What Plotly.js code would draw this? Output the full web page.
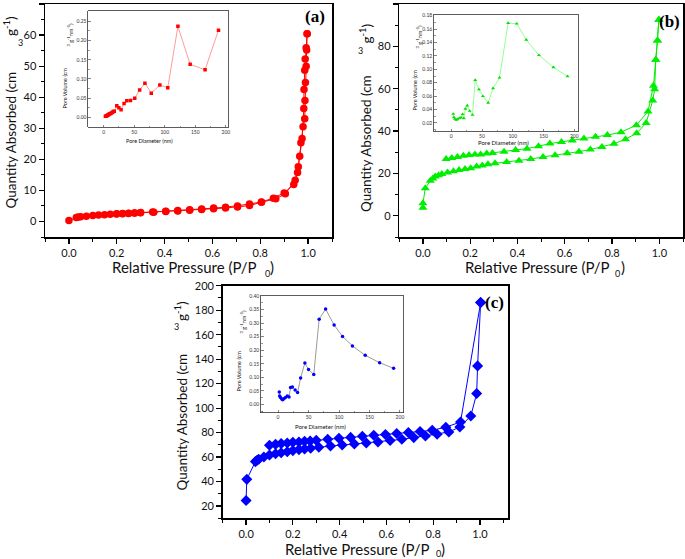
<!DOCTYPE html>
<html>
<head>
<meta charset="utf-8">
<script src="https://cdn.plot.ly/plotly-3.0.1.min.js"></script>
<style>html,body{margin:0;padding:0;background:#fff}#chart{width:685px;height:559px}</style>
</head>
<body>
<div id="chart"></div>
<script>
// ---------- Data ----------
// Panel (a) isotherm
const aAdsP = [0.000,0.031,0.039,0.049,0.073,0.100,0.124,0.149,0.173,0.199,0.224,0.249,0.274,0.299,0.355,0.405,0.455,0.505,0.555,0.605,0.655,0.705,0.755,0.805,0.865,0.905,0.946,0.959,0.970,0.979,0.986,0.987,0.989,0.992,0.994,0.996];
const aAdsQ = [0.3,1.3,1.4,1.5,1.7,1.95,2.05,2.15,2.3,2.4,2.5,2.6,2.7,2.8,2.95,3.2,3.4,3.65,3.85,4.1,4.35,4.65,5.1,6.2,7.3,8.9,13.3,17.6,25.3,30.5,33.1,38.9,44.7,50.0,55.2,60.4];
const aDesP = [0.996,0.992,0.988,0.986,0.983,0.982,0.975,0.965,0.956,0.940,0.900,0.855,0.805,0.755,0.705,0.655,0.605,0.555,0.505,0.455,0.405,0.350,0.300,0.275,0.250,0.225,0.200];
const aDesQ = [60.4,55.9,52.3,48.7,42.5,36.4,26.7,21.0,15.8,11.9,9.2,7.5,6.3,5.6,5.0,4.6,4.3,4.0,3.75,3.5,3.3,3.05,2.85,2.75,2.65,2.55,2.45];
// Panel (b) isotherm
const bAdsP = [0.000,0.000,0.010,0.031,0.042,0.052,0.066,0.080,0.104,0.129,0.153,0.178,0.202,0.227,0.251,0.275,0.305,0.354,0.406,0.456,0.508,0.559,0.610,0.660,0.708,0.757,0.808,0.857,0.904,0.944,0.972,0.980,0.985,0.992,0.998];
const bAdsQ = [3.8,5.9,13.0,16.5,17.6,18.6,19.2,19.7,20.5,21.0,21.6,22.1,22.5,23.3,23.8,24.3,24.8,25.4,26.0,26.8,27.8,28.6,29.5,30.3,31.3,32.5,34.0,36.2,39.0,43.8,54.5,59.8,73.7,82.8,92.6];
const bDesP = [0.998,0.992,0.985,0.975,0.952,0.903,0.838,0.780,0.730,0.681,0.632,0.586,0.537,0.489,0.440,0.392,0.343,0.294,0.270,0.244,0.220,0.195,0.171,0.146,0.122,0.098];
const bDesQ = [92.6,82.8,73.7,61.4,49.3,42.8,39.5,38.1,37.3,36.5,35.6,34.8,34.1,32.9,31.7,31.1,30.3,29.7,29.4,29.0,28.9,28.7,28.3,27.8,27.3,26.8];
// Panel (c) isotherm
const cAdsP = [0.000,0.003,0.040,0.047,0.054,0.076,0.100,0.126,0.150,0.176,0.200,0.226,0.250,0.276,0.311,0.361,0.411,0.463,0.514,0.564,0.616,0.666,0.717,0.767,0.817,0.867,0.914,0.961,0.986,0.990,1.003];
const cAdsQ = [24.6,41.8,56.3,57.4,58.2,60.1,61.7,62.8,63.6,64.4,65.3,66.1,66.6,67.2,68.0,69.1,69.9,70.7,71.5,72.4,73.5,74.5,75.9,77.3,78.6,80.5,84.6,93.6,111.9,134.5,186.3];
const cDesP = [1.003,0.917,0.854,0.796,0.744,0.694,0.644,0.596,0.546,0.497,0.447,0.397,0.349,0.300,0.274,0.250,0.226,0.200,0.176,0.150,0.126,0.100];
const cDesQ = [186.3,88.7,84.4,81.9,80.9,80.0,79.2,78.4,77.8,77.0,76.1,75.4,74.5,73.8,73.2,72.9,72.4,72.1,71.5,71.0,70.4,69.6];
// Insets: pore size distributions
const aPoreD = [3,4,5,6,7,8,9,10,11.5,13,14.5,16,17.5,21.6,25,28.6,33.5,38,44,51,59,67.6,78,92,105,121.6,141.6,166,188];
const aPoreV = [0.003,0.003,0.004,0.005,0.006,0.007,0.008,0.009,0.010,0.011,0.013,0.015,0.016,0.030,0.025,0.020,0.036,0.043,0.044,0.050,0.071,0.089,0.063,0.084,0.077,0.237,0.138,0.124,0.227];
const bPoreD = [3.2,4.3,6,8,9.7,13,16,18.4,20.5,23,26,30,34.6,39,45,51.5,60,68,78.5,92.5,106.5,122,142.5,166,189];
const bPoreV = [0.0334,0.0284,0.026,0.0245,0.0255,0.027,0.028,0.033,0.027,0.041,0.046,0.038,0.032,0.084,0.070,0.060,0.050,0.0716,0.0875,0.169,0.168,0.144,0.121,0.103,0.0895];
const cPoreD = [2,2.6,4,6,7.5,9.5,12,15.3,18,20.5,23.5,28,32,37,44,50,58.6,67.4,78,92,105.8,122,143,166.6,189.6];
const cPoreV = [0.046,0.031,0.025,0.020,0.017,0.021,0.025,0.031,0.027,0.062,0.064,0.053,0.044,0.097,0.153,0.129,0.110,0.314,0.352,0.293,0.251,0.216,0.181,0.154,0.133];

// ---------- Layout helpers ----------
const W = 685, H = 559;
const px = x => x / W, py = y => 1 - y / H;
const dX = (l, r) => [px(l), px(r)];
const dY = (t, b) => [py(b), py(t)];
const FONT = 'Lato, "Open Sans", sans-serif';
const SERIF = '"Liberation Serif", "Times New Roman", serif';

function mainAxis(domain, anchor, range, dtick, minor, fmt) {
  return {domain, anchor, range, tick0: 0, dtick, tickformat: fmt,
    ticks: 'outside', ticklen: 5, tickwidth: 1.2, tickcolor: '#000',
    showline: true, linewidth: 1.5, linecolor: '#000', mirror: true,
    showgrid: false, zeroline: false,
    tickfont: {family: FONT, size: 11, color: '#111'},
    minor: {dtick: minor, ticks: 'outside', ticklen: 3, tickwidth: 1, tickcolor: '#000', showgrid: false}};
}
function insetAxis(domain, anchor, range, dtick, minor, fmt) {
  return {domain, anchor, range, tick0: 0, dtick, tickformat: fmt,
    ticks: 'inside', ticklen: 2.5, tickwidth: 0.6, tickcolor: '#333',
    showline: true, linewidth: 0.8, linecolor: '#333', mirror: true,
    showgrid: false, zeroline: false,
    tickfont: {family: FONT, size: 5, color: '#333'},
    minor: {dtick: minor, ticks: 'inside', ticklen: 1.5, tickwidth: 0.5, tickcolor: '#333', showgrid: false}};
}
function ann(text, x, y, o) {
  o = o || {};
  return {text, x: px(x), y: py(y), xref: 'paper', yref: 'paper', showarrow: false,
    xanchor: o.xa || 'center', yanchor: o.ya || 'middle', textangle: o.angle || 0,
    borderpad: 0,
    font: {family: o.family || FONT, size: o.size || 13, color: o.color || '#111', weight: o.weight || 'normal'}};
}

// ---------- Traces ----------
function iso(x, y, xa, ya, color, symbol, size) {
  return {x, y, xaxis: xa, yaxis: ya, type: 'scatter', mode: 'lines+markers',
    line: {color, width: 1}, marker: {color, symbol, size}, hoverinfo: 'none'};
}
function psd(x, y, xa, ya, lineColor, color, symbol) {
  return {x, y, xaxis: xa, yaxis: ya, type: 'scatter', mode: 'lines+markers',
    line: {color: lineColor, width: 0.8}, marker: {color, symbol, size: 3.5}, hoverinfo: 'none'};
}
const traces = [
  iso(aAdsP, aAdsQ, 'x', 'y', '#ff0000', 'circle', 7.5),
  iso(aDesP, aDesQ, 'x', 'y', '#ff0000', 'circle', 7.5),
  iso(bAdsP, bAdsQ, 'x2', 'y2', '#00ee00', 'triangle-up', 8),
  iso(bDesP, bDesQ, 'x2', 'y2', '#00ee00', 'triangle-up', 8),
  iso(cAdsP, cAdsQ, 'x3', 'y3', '#0000ff', 'diamond', 8.5),
  iso(cDesP, cDesQ, 'x3', 'y3', '#0000ff', 'diamond', 8.5),
  psd(aPoreD, aPoreV, 'x4', 'y4', '#ff8080', '#ff0000', 'square'),
  psd(bPoreD, bPoreV, 'x5', 'y5', '#77ff77', '#00dd00', 'triangle-up'),
  psd(cPoreD, cPoreV, 'x6', 'y6', '#808080', '#0000ff', 'circle')
];

// ---------- Layout ----------
const XT = 15, YT = 13.5;
const layout = {
  width: W, height: H, margin: {l: 0, r: 0, t: 0, b: 0},
  paper_bgcolor: '#fff', plot_bgcolor: 'rgba(0,0,0,0)', showlegend: false,
  xaxis:  mainAxis(dX(45, 332), 'y', [-0.1, 1.1], 0.2, 0.1, '.1f'),
  yaxis:  mainAxis(dY(4, 237), 'x', [-5, 70], 10, 5, 'd'),
  xaxis2: mainAxis(dX(399.3, 683), 'y2', [-0.1, 1.1], 0.2, 0.1, '.1f'),
  yaxis2: mainAxis(dY(4, 237), 'x2', [-10, 100], 20, 10, 'd'),
  xaxis3: mainAxis(dX(222.7, 508), 'y3', [-0.1, 1.12], 0.2, 0.1, '.1f'),
  yaxis3: mainAxis(dY(285.7, 518.3), 'x3', [10, 200], 20, 10, 'd'),
  xaxis4: insetAxis(dX(88.3, 228.3), 'y4', [-25, 204], 50, 25, 'd'),
  yaxis4: insetAxis(dY(11, 127.3), 'x4', [-0.026, 0.277], 0.05, 0.025, '.2f'),
  xaxis5: insetAxis(dX(434, 578), 'y5', [-28, 206], 50, 25, 'd'),
  yaxis5: insetAxis(dY(15, 131), 'x5', [0.008, 0.181], 0.02, 0.01, '.2f'),
  xaxis6: insetAxis(dX(261, 403), 'y6', [-28, 205], 50, 25, 'd'),
  yaxis6: insetAxis(dY(295.5, 412.5), 'x6', [-0.03, 0.402], 0.05, 0.025, '.2f'),
  annotations: [
    // panel (a)
    ann('Relative Pressure (P/P', 111, 267, {xa: 'left', size: XT}),
    ann('0', 267, 273, {size: 9}),
    ann(')', 272, 267, {size: XT}),
    ann('Quantity Absorbed (cm', 10, 210, {ya: 'bottom', angle: -90, size: YT}),
    ann('3', 20, 42, {size: 9}),
    ann('g<sup>-1</sup>)', 10, 37, {ya: 'bottom', angle: -90, size: YT}),
    ann('<b>(a)</b>', 315, 17, {family: SERIF, size: 17, color: '#000'}),
    ann('Pore Diameter (nm)', 149, 141, {size: 5.5}),
    ann('Pore Volume (cm', 65, 110, {ya: 'bottom', angle: -90, size: 5.5}),
    ann('<sup>3</sup> g<sup>-1</sup>nm<sup>-1</sup>)', 70, 48, {ya: 'bottom', angle: -90, size: 5.5}),
    // panel (b)
    ann('Relative Pressure (P/P', 464, 267, {xa: 'left', size: XT}),
    ann('0', 617, 273, {size: 9}),
    ann(')', 623, 267, {size: XT}),
    ann('Quantity Absorbed (cm', 366.5, 213, {ya: 'bottom', angle: -90, size: YT}),
    ann('3', 361, 50, {size: 9}),
    ann('g<sup>-1</sup>)', 366.5, 45, {ya: 'bottom', angle: -90, size: YT}),
    ann('<b>(b)</b>', 669, 21, {family: SERIF, size: 17, color: '#000'}),
    ann('Pore Diameter (nm)', 504, 142, {size: 6}),
    ann('Pore Volume (cm', 415, 112, {ya: 'bottom', angle: -90, size: 5.5}),
    ann('<sup>3</sup> g<sup>-1</sup>nm<sup>-1</sup>)', 419, 50, {ya: 'bottom', angle: -90, size: 5.5}),
    // panel (c)
    ann('Relative Pressure (P/P', 284, 549, {xa: 'left', size: XT}),
    ann('0', 439, 553, {size: 9}),
    ann(')', 443, 549, {size: XT}),
    ann('Quantity Absorbed (cm', 181, 492, {ya: 'bottom', angle: -90, size: YT}),
    ann('3', 176, 326, {size: 9}),
    ann('g<sup>-1</sup>)', 181, 322, {ya: 'bottom', angle: -90, size: YT}),
    ann('<b>(c)</b>', 494, 302, {family: SERIF, size: 17, color: '#000'}),
    ann('Pore Diameter (nm)', 320, 426, {size: 6}),
    ann('Pore Volume (cm', 238, 393, {ya: 'bottom', angle: -90, size: 5.5}),
    ann('<sup>3</sup> g<sup>-1</sup>nm<sup>-1</sup>)', 243, 334, {ya: 'bottom', angle: -90, size: 5.5})
  ]
};

Plotly.newPlot('chart', traces, layout, {staticPlot: true, displayModeBar: false});
</script>
</body>
</html>
